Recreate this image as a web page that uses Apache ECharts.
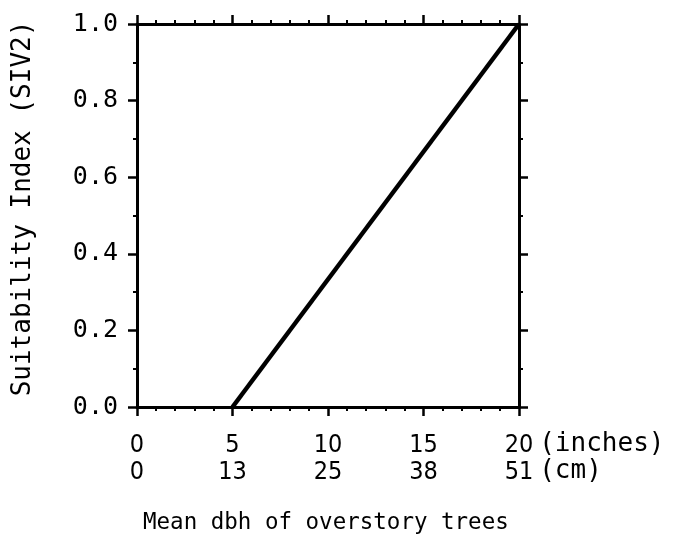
<!DOCTYPE html>
<html><head><meta charset="utf-8">
<script src="https://cdn.jsdelivr.net/npm/echarts@6/dist/echarts.min.js"></script>
<style>html,body{margin:0;padding:0;background:#fff}#c{width:674px;height:554px}</style>
</head><body><div id="c"></div>
<script>
var inchTicks = [0, 5, 10, 15, 20];
var cmTicks = ['0', '13', '25', '38', '51'];
var yTicks = ['0.0', '0.2', '0.4', '0.6', '0.8', '1.0'];
var lineX = [5, 20];
var lineY = [0.0, 1.0];
var xTitle = 'Mean dbh of overstory trees';
var yTitle = 'Suitability Index (SIV2)';
var unitText = '(inches)\n(cm)';

var chart = echarts.init(document.getElementById('c'), null, {renderer: 'canvas'});
var xBase = {
  type: 'value', min: 0, max: 20, interval: 5,
  axisLine: {show: true, onZero: false, lineStyle: {color: '#000', width: 3}},
  axisTick: {show: true, inside: false, length: 9, lineStyle: {color: '#000', width: 2.5}},
  minorTick: {show: true, splitNumber: 5, length: 4, lineStyle: {color: '#000', width: 2}},
  splitLine: {show: false}
};
var yBase = {
  type: 'value', min: 0, max: 1, interval: 0.2,
  axisLine: {show: true, onZero: false, lineStyle: {color: '#000', width: 3}},
  axisTick: {show: true, inside: false, length: 9, lineStyle: {color: '#000', width: 2.5}},
  minorTick: {show: true, splitNumber: 2, length: 4, lineStyle: {color: '#000', width: 2}},
  splitLine: {show: false}
};
var data = lineX.map(function (x, i) { return [x, lineY[i]]; });
chart.setOption({
  backgroundColor: '#fff',
  animation: false,
  grid: {left: 137, right: 155, top: 24, bottom: 147},
  xAxis: [
    Object.assign({}, xBase, {
      position: 'bottom',
      name: unitText, nameLocation: 'end', nameGap: 3,
      nameTextStyle: {color: '#000', fontFamily: 'DejaVu Sans Mono, monospace', fontSize: 26,
        align: 'left', verticalAlign: 'top', lineHeight: 27, padding: [24, 0, 0, 0]},
      axisLabel: {show: true, margin: 25, color: '#000', fontSize: 25, lineHeight: 27,
        fontFamily: 'Liberation Sans Narrow, DejaVu Sans Condensed, sans-serif',
        formatter: function (v) { var i = inchTicks.indexOf(v); return i < 0 ? '' : inchTicks[i] + '\n' + cmTicks[i]; }}
    }),
    Object.assign({}, xBase, {position: 'top', axisLabel: {show: false}})
  ],
  yAxis: [
    Object.assign({}, yBase, {
      position: 'left',
      name: yTitle, nameLocation: 'middle', nameGap: 101,
      nameTextStyle: {color: '#000', fontFamily: 'DejaVu Sans Mono, monospace', fontSize: 26,
        padding: [0, 0, 0, 14]},
      axisLabel: {show: true, margin: 19, color: '#000', fontSize: 25,
        fontFamily: 'DejaVu Sans Mono, monospace',
        formatter: function (v) { var i = Math.round(v * 5); return yTicks[i] !== undefined && Math.abs(v * 5 - i) < 1e-6 ? yTicks[i] : ''; }}
    }),
    Object.assign({}, yBase, {position: 'right', axisLabel: {show: false}})
  ],
  graphic: [{
    type: 'text', left: 143, top: 512,
    style: {text: xTitle, fill: '#000', font: '22.5px "DejaVu Sans Mono", monospace'}
  }],
  series: [{
    type: 'line', xAxisIndex: 0, yAxisIndex: 0, data: data,
    showSymbol: false, symbol: 'none',
    lineStyle: {color: '#000', width: 4.5}
  }]
});
</script></body></html>
